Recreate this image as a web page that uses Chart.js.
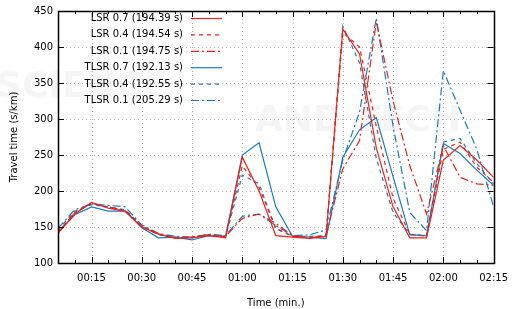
<!DOCTYPE html>
<html>
<head>
<meta charset="utf-8">
<script src="https://cdn.jsdelivr.net/npm/chart.js@4"></script>
<style>
  html, body { margin: 0; padding: 0; background: #fff; }
  #wrap { width: 517px; height: 309px; }
</style>
</head>
<body>
<div id="wrap"><canvas id="travelChart" width="517" height="309"></canvas></div>
<script>
/* ================= DATA ================= */
// minutes after midnight, one sample every 5 min
const minutes = [5, 10, 15, 20, 25, 30, 35, 40, 45, 50, 55, 60, 65, 70,
  75, 80, 85, 90, 95, 100, 105, 110, 115, 120, 125, 130, 135];

const lsr07 = [141, 168, 184, 176, 172, 150, 140, 134, 135, 138, 135, 247, 200, 138,
  136, 134, 137, 425, 390, 260, 178, 135, 135, 243, 263, 243, 219];
const lsr04 = [143, 170, 183, 177, 172, 150, 140, 135, 136, 139, 136, 235, 205, 148,
  137, 135, 138, 420, 400, 290, 190, 140, 137, 258, 268, 233, 212];
const lsr01 = [142, 170, 183, 178, 173, 151, 141, 135, 136, 139, 137, 162, 168, 155,
  138, 135, 138, 231, 270, 435, 325, 235, 168, 263, 219, 210, 208];
const tlsr07 = [143, 167, 178, 172, 172, 149, 135, 136, 132, 138, 137, 250, 267, 178,
  137, 136, 134, 247, 285, 302, 220, 139, 138, 266, 252, 229, 208];
const tlsr04 = [146, 172, 181, 178, 174, 152, 139, 136, 135, 139, 137, 222, 210, 148,
  137, 137, 138, 429, 378, 245, 170, 140, 138, 268, 273, 238, 210];
const tlsr01 = [148, 174, 182, 180, 178, 153, 141, 137, 136, 140, 138, 165, 168, 152,
  138, 139, 146, 243, 310, 440, 290, 170, 145, 367, 312, 258, 178];

const seriesLabels = ["LSR 0.7 (194.39 s)", "LSR 0.4 (194.54 s)", "LSR 0.1 (194.75 s)",
  "TLSR 0.7 (192.13 s)", "TLSR 0.4 (192.55 s)", "TLSR 0.1 (205.29 s)"];
const xTicks = [15, 30, 45, 60, 75, 90, 105, 120, 135];
const yTicks = [100, 150, 200, 250, 300, 350, 400, 450];

/* ================= STYLE ================= */
const RED = "#e8231b";
const BLUE = "#1a7ac2";
const SOLID = [];
const DASH = [4, 4];
const DASHDOT = [8, 3, 2, 3];
const FONT = "DejaVu Sans";

function fmtTime(v) {
  const h = Math.floor(v / 60), m = v % 60;
  return String(h).padStart(2, "0") + ":" + String(m).padStart(2, "0");
}

function makeSet(label, values, color, dash) {
  return {
    label: label,
    data: minutes.map((m, i) => ({ x: m, y: values[i] })),
    borderColor: color,
    backgroundColor: color,
    borderWidth: 1.2,
    borderDash: dash,
    pointRadius: 0,
    tension: 0,
    fill: false
  };
}

/* ================= PLUGINS ================= */
// faint publisher watermark behind everything
const watermark = {
  id: "watermark",
  beforeDraw(chart) {
    const ctx = chart.ctx;
    ctx.save();
    ctx.fillStyle = "rgba(0,0,0,0.04)";
    ctx.font = "bold 36px " + FONT;
    ctx.textBaseline = "middle";
    ctx.fillText("SCIENCE", -4, 88);
    ctx.fillText("AND TECH", 255, 122);
    ctx.restore();
  }
};

// gnuplot-like frame: dotted grid, inward ticks, full border
const frame = {
  id: "frame",
  beforeDatasetsDraw(chart) {
    const { ctx, chartArea: a, scales: { x, y } } = chart;
    ctx.save();
    ctx.strokeStyle = "#b0b0b0";
    ctx.lineWidth = 1;
    ctx.setLineDash([1, 3]);
    xTicks.forEach(v => {
      const px = Math.round(x.getPixelForValue(v)) + 0.5;
      ctx.beginPath(); ctx.moveTo(px, a.top); ctx.lineTo(px, a.bottom); ctx.stroke();
    });
    yTicks.forEach(v => {
      const py = Math.round(y.getPixelForValue(v)) + 0.5;
      ctx.beginPath(); ctx.moveTo(a.left, py); ctx.lineTo(a.right, py); ctx.stroke();
    });
    ctx.restore();
  },
  afterDatasetsDraw(chart) {
    const { ctx, chartArea: a, scales: { x, y } } = chart;
    ctx.save();
    ctx.strokeStyle = "#000";
    ctx.lineWidth = 1;
    ctx.setLineDash([]);
    for (let m = 5; m <= 135; m += 5) {
      const px = Math.round(x.getPixelForValue(m)) + 0.5;
      const len = m % 15 === 0 ? 6 : 3;
      ctx.beginPath();
      ctx.moveTo(px, a.bottom); ctx.lineTo(px, a.bottom - len);
      ctx.moveTo(px, a.top); ctx.lineTo(px, a.top + len);
      ctx.stroke();
    }
    yTicks.forEach(v => {
      const py = Math.round(y.getPixelForValue(v)) + 0.5;
      ctx.beginPath();
      ctx.moveTo(a.left, py); ctx.lineTo(a.left + 6, py);
      ctx.moveTo(a.right, py); ctx.lineTo(a.right - 6, py);
      ctx.stroke();
    });
    ctx.lineWidth = 1.5;
    ctx.strokeRect(Math.round(a.left) + 0.5, Math.round(a.top) + 0.5,
      Math.round(a.right - a.left), Math.round(a.bottom - a.top));
    ctx.restore();
  }
};

// legend inside the plot, right-aligned text with line sample after it
const insideLegend = {
  id: "insideLegend",
  afterDatasetsDraw(chart) {
    const ctx = chart.ctx;
    ctx.save();
    ctx.font = "10px " + FONT;
    ctx.textAlign = "right";
    ctx.textBaseline = "middle";
    chart.data.datasets.forEach((ds, i) => {
      const yy = 18.5 + i * 16.4;
      ctx.fillStyle = "#000";
      ctx.fillText(ds.label, 183, yy);
      ctx.strokeStyle = ds.borderColor;
      ctx.lineWidth = 1.2;
      ctx.setLineDash(ds.borderDash);
      ctx.beginPath(); ctx.moveTo(191, yy); ctx.lineTo(222, yy); ctx.stroke();
    });
    ctx.restore();
  }
};

/* ================= CHART ================= */
new Chart(document.getElementById("travelChart"), {
  type: "line",
  data: {
    datasets: [
      makeSet(seriesLabels[0], lsr07, RED, SOLID),
      makeSet(seriesLabels[1], lsr04, RED, DASH),
      makeSet(seriesLabels[2], lsr01, RED, DASHDOT),
      makeSet(seriesLabels[3], tlsr07, BLUE, SOLID),
      makeSet(seriesLabels[4], tlsr04, BLUE, DASH),
      makeSet(seriesLabels[5], tlsr01, BLUE, DASHDOT)
    ]
  },
  options: {
    responsive: false,
    animation: false,
    layout: { padding: { top: 10, right: 15, left: 0, bottom: 0 } },
    plugins: { legend: { display: false }, tooltip: { enabled: false } },
    scales: {
      x: {
        type: "linear",
        min: 5,
        max: 135,
        afterBuildTicks: s => { s.ticks = xTicks.map(v => ({ value: v })); },
        afterFit: s => { s.height = 46; },
        grid: { display: false, drawTicks: false },
        border: { display: false },
        ticks: {
          padding: 9,
          autoSkip: false,
          maxRotation: 0,
          color: "#000",
          font: { family: FONT, size: 10 },
          callback: v => fmtTime(v)
        },
        title: {
          display: true,
          text: "Time (min.)",
          color: "#000",
          font: { family: FONT, size: 10 },
          padding: { top: 6, bottom: 0 }
        }
      },
      y: {
        min: 100,
        max: 450,
        afterBuildTicks: s => { s.ticks = yTicks.map(v => ({ value: v })); },
        afterFit: s => { s.width = 58; },
        grid: { display: false, drawTicks: false },
        border: { display: false },
        ticks: {
          padding: 5,
          autoSkip: false,
          color: "#000",
          font: { family: FONT, size: 10 }
        },
        title: {
          display: true,
          text: "Travel time (s/km)",
          color: "#000",
          font: { family: FONT, size: 10 },
          padding: { top: 8, bottom: 0 }
        }
      }
    }
  },
  plugins: [watermark, frame, insideLegend]
});
</script>
</body>
</html>
